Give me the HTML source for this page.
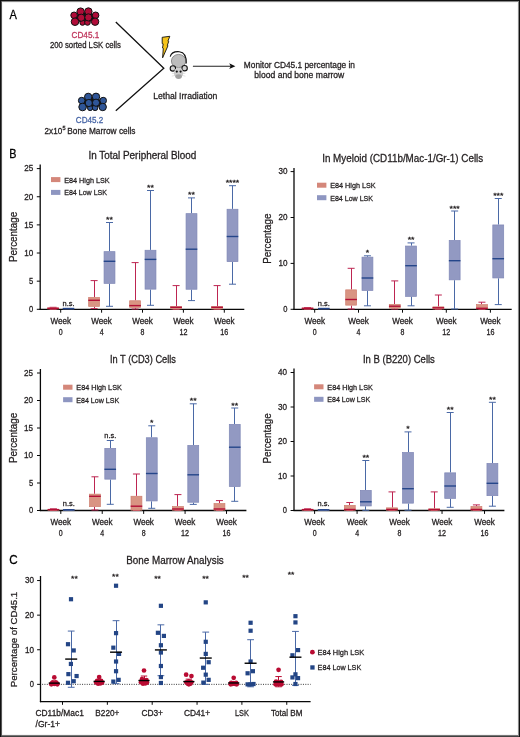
<!DOCTYPE html>
<html><head><meta charset="utf-8"><title>Figure</title>
<style>
html,body{margin:0;padding:0;background:#fff;}
body{width:520px;height:737px;overflow:hidden;position:relative;}
svg{position:absolute;left:0;top:0;font-family:"Liberation Sans", sans-serif;will-change:transform;}
</style></head>
<body>
<svg width="520" height="737" viewBox="0 0 520 737">
<text x="9.6" y="18.8" font-size="12" fill="#000" stroke="#000" stroke-width="0.28" text-anchor="start" textLength="7.4" lengthAdjust="spacingAndGlyphs" >A</text>
<ellipse cx="84.85" cy="17.50" rx="9.5" ry="5.2" fill="#111"/>
<circle cx="74.10" cy="15.30" r="3.3" fill="#b00c38" stroke="#111" stroke-width="1.0"/>
<circle cx="95.60" cy="15.30" r="3.3" fill="#b00c38" stroke="#111" stroke-width="1.0"/>
<circle cx="80.60" cy="11.60" r="3.7" fill="#b00c38" stroke="#111" stroke-width="1.0"/>
<circle cx="88.40" cy="11.50" r="3.7" fill="#b00c38" stroke="#111" stroke-width="1.0"/>
<circle cx="82.50" cy="22.70" r="2.6" fill="#b00c38" stroke="#111" stroke-width="1.0"/>
<circle cx="87.50" cy="22.50" r="2.8" fill="#b00c38" stroke="#111" stroke-width="1.0"/>
<circle cx="75.00" cy="21.70" r="3.8" fill="#b00c38" stroke="#111" stroke-width="1.0"/>
<circle cx="95.10" cy="21.70" r="3.7" fill="#b00c38" stroke="#111" stroke-width="1.0"/>
<circle cx="81.20" cy="17.70" r="3.6" fill="#b00c38" stroke="#111" stroke-width="1.0"/>
<circle cx="88.40" cy="17.40" r="3.6" fill="#b00c38" stroke="#111" stroke-width="1.0"/>
<ellipse cx="92.45" cy="102.80" rx="9.5" ry="5.2" fill="#111"/>
<circle cx="81.70" cy="100.60" r="3.3" fill="#2f5698" stroke="#111" stroke-width="1.0"/>
<circle cx="103.20" cy="100.60" r="3.3" fill="#2f5698" stroke="#111" stroke-width="1.0"/>
<circle cx="88.20" cy="96.90" r="3.7" fill="#2f5698" stroke="#111" stroke-width="1.0"/>
<circle cx="96.00" cy="96.80" r="3.7" fill="#2f5698" stroke="#111" stroke-width="1.0"/>
<circle cx="90.10" cy="108.00" r="2.6" fill="#2f5698" stroke="#111" stroke-width="1.0"/>
<circle cx="95.10" cy="107.80" r="2.8" fill="#2f5698" stroke="#111" stroke-width="1.0"/>
<circle cx="82.60" cy="107.00" r="3.8" fill="#2f5698" stroke="#111" stroke-width="1.0"/>
<circle cx="102.70" cy="107.00" r="3.7" fill="#2f5698" stroke="#111" stroke-width="1.0"/>
<circle cx="88.80" cy="103.00" r="3.6" fill="#2f5698" stroke="#111" stroke-width="1.0"/>
<circle cx="96.00" cy="102.70" r="3.6" fill="#2f5698" stroke="#111" stroke-width="1.0"/>
<text x="85.4" y="37.5" font-size="8.6" fill="#c0385e" stroke="#c0385e" stroke-width="0.28" text-anchor="middle" textLength="27.6" lengthAdjust="spacingAndGlyphs" >CD45.1</text>
<text x="85.4" y="47.9" font-size="8.6" fill="#231f20" stroke="#231f20" stroke-width="0.28" text-anchor="middle" textLength="71" lengthAdjust="spacingAndGlyphs" >200 sorted LSK cells</text>
<text x="89.5" y="123.2" font-size="8.6" fill="#4866a6" stroke="#4866a6" stroke-width="0.28" text-anchor="middle" textLength="27.4" lengthAdjust="spacingAndGlyphs" >CD45.2</text>
<text x="44.6" y="133.5" font-size="8.6" fill="#231f20" stroke="#231f20" stroke-width="0.28" textLength="17.6" lengthAdjust="spacingAndGlyphs">2x10</text>
<text x="62.6" y="130.2" font-size="5.6" fill="#231f20" stroke="#231f20" stroke-width="0.28">5</text>
<text x="67.3" y="133.5" font-size="8.6" fill="#231f20" stroke="#231f20" stroke-width="0.28" textLength="68.2" lengthAdjust="spacingAndGlyphs">Bone Marrow cells</text>
<polyline points="115.8,22 163.8,68.2 115.8,110.8" fill="none" stroke="#111" stroke-width="1.3"/>
<path d="M162.2,37.3 L169.8,36.3 L167.9,41.2 L168.7,41.5 L167.3,45.4 L168.0,45.7 L162.6,57.8 L163.3,48.3 L162.5,48.0 L163.2,43.9 L162.2,43.6 Z" fill="#f6c41a" stroke="#111" stroke-width="0.9" stroke-linejoin="miter"/>
<g>
<ellipse cx="178.6" cy="61.0" rx="7.2" ry="6.6" fill="#bdbdbd" stroke="#555" stroke-width="0.6"/>
<path d="M170.2,56.6 C171.3,52.6 175.6,51.4 179.3,51.7 C183.8,52.2 186.6,56.6 186.3,63.6" fill="none" stroke="#111" stroke-width="1.1"/>
<circle cx="172.9" cy="68.4" r="2.7" fill="#d2d2d2" stroke="#111" stroke-width="1.1"/>
<circle cx="184.6" cy="68.2" r="2.7" fill="#d2d2d2" stroke="#111" stroke-width="1.1"/>
<ellipse cx="178.6" cy="72.9" rx="4.7" ry="5.1" fill="#cdcdcd"/>
<ellipse cx="178.6" cy="76.6" rx="3.3" ry="2.3" fill="#a2a2a2"/>
<circle cx="176.8" cy="71.6" r="1.1" fill="#111"/>
<circle cx="180.6" cy="71.6" r="1.1" fill="#111"/>
<line x1="171.8" y1="73.3" x2="175.2" y2="73.5" stroke="#c4c4c4" stroke-width="0.45" />
<line x1="171.8" y1="76.2" x2="175.0" y2="75.4" stroke="#c4c4c4" stroke-width="0.45" />
<line x1="182.0" y1="73.5" x2="185.4" y2="73.3" stroke="#c4c4c4" stroke-width="0.45" />
<line x1="182.2" y1="75.4" x2="185.4" y2="76.2" stroke="#c4c4c4" stroke-width="0.45" />
</g>
<line x1="192.9" y1="66.3" x2="232" y2="66.3" stroke="#222" stroke-width="1.1" />
<path d="M235.4,66.3 L229.2,63.3 L230.7,66.3 L229.2,69.1 Z" fill="#111"/>
<text x="185.3" y="99.1" font-size="8.6" fill="#231f20" stroke="#231f20" stroke-width="0.28" text-anchor="middle" textLength="64.2" lengthAdjust="spacingAndGlyphs" >Lethal Irradiation</text>
<text x="299.4" y="68.0" font-size="8.6" fill="#231f20" stroke="#231f20" stroke-width="0.28" text-anchor="middle" textLength="111.2" lengthAdjust="spacingAndGlyphs" >Monitor CD45.1 percentage in</text>
<text x="299.3" y="78.4" font-size="8.6" fill="#231f20" stroke="#231f20" stroke-width="0.28" text-anchor="middle" textLength="90" lengthAdjust="spacingAndGlyphs" >blood and bone marrow</text>
<text x="9.2" y="158.1" font-size="12" fill="#000" stroke="#000" stroke-width="0.28" text-anchor="start" textLength="7.2" lengthAdjust="spacingAndGlyphs" >B</text>
<text x="88.4" y="158.5" font-size="10.0" fill="#231f20" stroke="#231f20" stroke-width="0.28" text-anchor="start" textLength="108" lengthAdjust="spacingAndGlyphs" >In Total Peripheral Blood</text>
<line x1="36.800000000000004" y1="309.3" x2="40.2" y2="309.3" stroke="#080808" stroke-width="1" />
<text x="33.300000000000004" y="312.1" font-size="8.2" fill="#231f20" stroke="#231f20" stroke-width="0.28" text-anchor="end" textLength="4.2" lengthAdjust="spacingAndGlyphs" >0</text>
<line x1="36.800000000000004" y1="281.16" x2="40.2" y2="281.16" stroke="#080808" stroke-width="1" />
<text x="33.300000000000004" y="283.96000000000004" font-size="8.2" fill="#231f20" stroke="#231f20" stroke-width="0.28" text-anchor="end" textLength="4.2" lengthAdjust="spacingAndGlyphs" >5</text>
<line x1="36.800000000000004" y1="253.02" x2="40.2" y2="253.02" stroke="#080808" stroke-width="1" />
<text x="33.300000000000004" y="255.82000000000002" font-size="8.2" fill="#231f20" stroke="#231f20" stroke-width="0.28" text-anchor="end" textLength="9.0" lengthAdjust="spacingAndGlyphs" >10</text>
<line x1="36.800000000000004" y1="224.88" x2="40.2" y2="224.88" stroke="#080808" stroke-width="1" />
<text x="33.300000000000004" y="227.68" font-size="8.2" fill="#231f20" stroke="#231f20" stroke-width="0.28" text-anchor="end" textLength="9.0" lengthAdjust="spacingAndGlyphs" >15</text>
<line x1="36.800000000000004" y1="196.74" x2="40.2" y2="196.74" stroke="#080808" stroke-width="1" />
<text x="33.300000000000004" y="199.54000000000002" font-size="8.2" fill="#231f20" stroke="#231f20" stroke-width="0.28" text-anchor="end" textLength="9.0" lengthAdjust="spacingAndGlyphs" >20</text>
<line x1="36.800000000000004" y1="168.60000000000002" x2="40.2" y2="168.60000000000002" stroke="#080808" stroke-width="1" />
<text x="33.300000000000004" y="171.40000000000003" font-size="8.2" fill="#231f20" stroke="#231f20" stroke-width="0.28" text-anchor="end" textLength="9.0" lengthAdjust="spacingAndGlyphs" >25</text>
<line x1="40.2" y1="164.6" x2="40.2" y2="309.90000000000003" stroke="#080808" stroke-width="1.3" />
<line x1="39.6" y1="309.3" x2="244.3" y2="309.3" stroke="#080808" stroke-width="1.3" />
<text x="0" y="0" transform="translate(16.900000000000002,237) rotate(-90)" font-size="10.3" fill="#231f20" stroke="#231f20" stroke-width="0.28" text-anchor="middle" textLength="50.2" lengthAdjust="spacingAndGlyphs">Percentage</text>
<rect x="51.0" y="177.1" width="9.4" height="5.0" fill="#d4877a"/>
<rect x="51.0" y="189.9" width="9.4" height="5.0" fill="#8e96c1"/>
<text x="64.2" y="182.5" font-size="8.1" fill="#231f20" stroke="#231f20" stroke-width="0.28" text-anchor="start" textLength="45.5" lengthAdjust="spacingAndGlyphs" >E84 High LSK</text>
<text x="64.2" y="195.3" font-size="8.1" fill="#231f20" stroke="#231f20" stroke-width="0.28" text-anchor="start" textLength="42.8" lengthAdjust="spacingAndGlyphs" >E84 Low LSK</text>
<line x1="60.7" y1="309.3" x2="60.7" y2="312.7" stroke="#080808" stroke-width="1" />
<text x="60.7" y="323.8" font-size="8.2" fill="#231f20" stroke="#231f20" stroke-width="0.28" text-anchor="middle" textLength="20.5" lengthAdjust="spacingAndGlyphs" >Week</text>
<text x="60.7" y="334.6" font-size="8.2" fill="#231f20" stroke="#231f20" stroke-width="0.28" text-anchor="middle" textLength="3.9" lengthAdjust="spacingAndGlyphs" >0</text>
<line x1="49.599999999999994" y1="307.3" x2="56.599999999999994" y2="307.3" stroke="#bd2551" stroke-width="1" />
<line x1="49.599999999999994" y1="309.3" x2="56.599999999999994" y2="309.3" stroke="#bd2551" stroke-width="1" />
<rect x="47.65" y="307.95" width="10.90" height="1.00" fill="#d99483" stroke="#cf7f6f" stroke-width="0.7"/>
<line x1="47.3" y1="308.3" x2="58.89999999999999" y2="308.3" stroke="#b30f36" stroke-width="1.4" />
<line x1="65.0" y1="308.5" x2="72.0" y2="308.5" stroke="#4a69a6" stroke-width="1" />
<line x1="65.0" y1="308.6" x2="72.0" y2="308.6" stroke="#4a69a6" stroke-width="1" />
<rect x="63.05" y="308.85" width="10.90" height="0.10" fill="#9299c2" stroke="#7f87b6" stroke-width="0.7"/>
<line x1="62.7" y1="308.5" x2="74.3" y2="308.5" stroke="#25468a" stroke-width="1.4" />
<line x1="101.6" y1="309.3" x2="101.6" y2="312.7" stroke="#080808" stroke-width="1" />
<text x="101.6" y="323.8" font-size="8.2" fill="#231f20" stroke="#231f20" stroke-width="0.28" text-anchor="middle" textLength="20.5" lengthAdjust="spacingAndGlyphs" >Week</text>
<text x="101.6" y="334.6" font-size="8.2" fill="#231f20" stroke="#231f20" stroke-width="0.28" text-anchor="middle" textLength="3.9" lengthAdjust="spacingAndGlyphs" >4</text>
<line x1="94.5" y1="280.6" x2="94.5" y2="297.1" stroke="#bd2551" stroke-width="1" />
<line x1="94.5" y1="306.7" x2="94.5" y2="308.6" stroke="#bd2551" stroke-width="1" />
<line x1="90.6" y1="280.6" x2="97.6" y2="280.6" stroke="#bd2551" stroke-width="1" />
<line x1="90.6" y1="308.6" x2="97.6" y2="308.6" stroke="#bd2551" stroke-width="1" />
<rect x="88.65" y="297.45" width="10.90" height="8.90" fill="#d99483" stroke="#cf7f6f" stroke-width="0.7"/>
<line x1="88.3" y1="300.3" x2="99.89999999999999" y2="300.3" stroke="#b30f36" stroke-width="1.4" />
<line x1="109.5" y1="222.5" x2="109.5" y2="251.3" stroke="#4a69a6" stroke-width="1" />
<line x1="109.5" y1="283.7" x2="109.5" y2="306.3" stroke="#4a69a6" stroke-width="1" />
<line x1="106.0" y1="222.5" x2="113.0" y2="222.5" stroke="#4a69a6" stroke-width="1" />
<line x1="106.0" y1="306.3" x2="113.0" y2="306.3" stroke="#4a69a6" stroke-width="1" />
<rect x="104.05" y="251.65" width="10.90" height="31.70" fill="#9299c2" stroke="#7f87b6" stroke-width="0.7"/>
<line x1="103.7" y1="261.3" x2="115.3" y2="261.3" stroke="#25468a" stroke-width="1.4" />
<line x1="142.5" y1="309.3" x2="142.5" y2="312.7" stroke="#080808" stroke-width="1" />
<text x="142.5" y="323.8" font-size="8.2" fill="#231f20" stroke="#231f20" stroke-width="0.28" text-anchor="middle" textLength="20.5" lengthAdjust="spacingAndGlyphs" >Week</text>
<text x="142.5" y="334.6" font-size="8.2" fill="#231f20" stroke="#231f20" stroke-width="0.28" text-anchor="middle" textLength="3.9" lengthAdjust="spacingAndGlyphs" >8</text>
<line x1="135.5" y1="262.6" x2="135.5" y2="300.4" stroke="#bd2551" stroke-width="1" />
<line x1="135.5" y1="307.8" x2="135.5" y2="309.0" stroke="#bd2551" stroke-width="1" />
<line x1="131.60000000000002" y1="262.6" x2="138.60000000000002" y2="262.6" stroke="#bd2551" stroke-width="1" />
<line x1="131.60000000000002" y1="309.0" x2="138.60000000000002" y2="309.0" stroke="#bd2551" stroke-width="1" />
<rect x="129.65" y="300.75" width="10.90" height="6.70" fill="#d99483" stroke="#cf7f6f" stroke-width="0.7"/>
<line x1="129.3" y1="305.6" x2="140.90000000000003" y2="305.6" stroke="#b30f36" stroke-width="1.4" />
<line x1="150.5" y1="190.5" x2="150.5" y2="249.9" stroke="#4a69a6" stroke-width="1" />
<line x1="150.5" y1="289.5" x2="150.5" y2="305.3" stroke="#4a69a6" stroke-width="1" />
<line x1="147.0" y1="190.5" x2="154.0" y2="190.5" stroke="#4a69a6" stroke-width="1" />
<line x1="147.0" y1="305.3" x2="154.0" y2="305.3" stroke="#4a69a6" stroke-width="1" />
<rect x="145.05" y="250.25" width="10.90" height="38.90" fill="#9299c2" stroke="#7f87b6" stroke-width="0.7"/>
<line x1="144.7" y1="259.4" x2="156.3" y2="259.4" stroke="#25468a" stroke-width="1.4" />
<line x1="183.4" y1="309.3" x2="183.4" y2="312.7" stroke="#080808" stroke-width="1" />
<text x="183.4" y="323.8" font-size="8.2" fill="#231f20" stroke="#231f20" stroke-width="0.28" text-anchor="middle" textLength="20.5" lengthAdjust="spacingAndGlyphs" >Week</text>
<text x="183.4" y="334.6" font-size="8.2" fill="#231f20" stroke="#231f20" stroke-width="0.28" text-anchor="middle" textLength="8.0" lengthAdjust="spacingAndGlyphs" >12</text>
<line x1="176.5" y1="285.6" x2="176.5" y2="306.3" stroke="#bd2551" stroke-width="1" />
<line x1="172.60000000000002" y1="285.6" x2="179.60000000000002" y2="285.6" stroke="#bd2551" stroke-width="1" />
<line x1="172.60000000000002" y1="309.3" x2="179.60000000000002" y2="309.3" stroke="#bd2551" stroke-width="1" />
<rect x="170.65" y="306.65" width="10.90" height="2.30" fill="#d99483" stroke="#cf7f6f" stroke-width="0.7"/>
<line x1="170.3" y1="307.3" x2="181.90000000000003" y2="307.3" stroke="#b30f36" stroke-width="1.4" />
<line x1="191.5" y1="197.9" x2="191.5" y2="213.3" stroke="#4a69a6" stroke-width="1" />
<line x1="191.5" y1="289.6" x2="191.5" y2="300.6" stroke="#4a69a6" stroke-width="1" />
<line x1="188.0" y1="197.9" x2="195.0" y2="197.9" stroke="#4a69a6" stroke-width="1" />
<line x1="188.0" y1="300.6" x2="195.0" y2="300.6" stroke="#4a69a6" stroke-width="1" />
<rect x="186.05" y="213.65" width="10.90" height="75.60" fill="#9299c2" stroke="#7f87b6" stroke-width="0.7"/>
<line x1="185.7" y1="249.2" x2="197.3" y2="249.2" stroke="#25468a" stroke-width="1.4" />
<line x1="224.3" y1="309.3" x2="224.3" y2="312.7" stroke="#080808" stroke-width="1" />
<text x="224.3" y="323.8" font-size="8.2" fill="#231f20" stroke="#231f20" stroke-width="0.28" text-anchor="middle" textLength="20.5" lengthAdjust="spacingAndGlyphs" >Week</text>
<text x="224.3" y="334.6" font-size="8.2" fill="#231f20" stroke="#231f20" stroke-width="0.28" text-anchor="middle" textLength="8.0" lengthAdjust="spacingAndGlyphs" >16</text>
<line x1="217.5" y1="285.6" x2="217.5" y2="306.3" stroke="#bd2551" stroke-width="1" />
<line x1="213.60000000000002" y1="285.6" x2="220.60000000000002" y2="285.6" stroke="#bd2551" stroke-width="1" />
<line x1="213.60000000000002" y1="309.3" x2="220.60000000000002" y2="309.3" stroke="#bd2551" stroke-width="1" />
<rect x="211.65" y="306.65" width="10.90" height="2.30" fill="#d99483" stroke="#cf7f6f" stroke-width="0.7"/>
<line x1="211.3" y1="307.3" x2="222.90000000000003" y2="307.3" stroke="#b30f36" stroke-width="1.4" />
<line x1="232.5" y1="185.7" x2="232.5" y2="208.9" stroke="#4a69a6" stroke-width="1" />
<line x1="232.5" y1="262.0" x2="232.5" y2="284.2" stroke="#4a69a6" stroke-width="1" />
<line x1="229.0" y1="185.7" x2="236.0" y2="185.7" stroke="#4a69a6" stroke-width="1" />
<line x1="229.0" y1="284.2" x2="236.0" y2="284.2" stroke="#4a69a6" stroke-width="1" />
<rect x="227.05" y="209.25" width="10.90" height="52.40" fill="#9299c2" stroke="#7f87b6" stroke-width="0.7"/>
<line x1="226.7" y1="236.5" x2="238.3" y2="236.5" stroke="#25468a" stroke-width="1.4" />
<text x="68.5" y="306.3" font-size="8.0" fill="#231f20" stroke="#231f20" stroke-width="0.28" text-anchor="middle" textLength="12.0" lengthAdjust="spacingAndGlyphs" >n.s.</text>
<text x="109.5" y="222.0" font-size="7.5" fill="#231f20" stroke="#231f20" stroke-width="0.28" text-anchor="middle" textLength="6.8" lengthAdjust="spacingAndGlyphs" letter-spacing="0">**</text>
<text x="150.5" y="190.0" font-size="7.5" fill="#231f20" stroke="#231f20" stroke-width="0.28" text-anchor="middle" textLength="6.8" lengthAdjust="spacingAndGlyphs" letter-spacing="0">**</text>
<text x="191.5" y="197.4" font-size="7.5" fill="#231f20" stroke="#231f20" stroke-width="0.28" text-anchor="middle" textLength="6.8" lengthAdjust="spacingAndGlyphs" letter-spacing="0">**</text>
<text x="232.5" y="185.2" font-size="7.5" fill="#231f20" stroke="#231f20" stroke-width="0.28" text-anchor="middle" textLength="13.6" lengthAdjust="spacingAndGlyphs" letter-spacing="0">****</text>
<text x="322.2" y="161.7" font-size="10.0" fill="#231f20" stroke="#231f20" stroke-width="0.28" text-anchor="start" textLength="161" lengthAdjust="spacingAndGlyphs" >In Myeloid (CD11b/Mac-1/Gr-1) Cells</text>
<line x1="290.6" y1="309.3" x2="294.0" y2="309.3" stroke="#080808" stroke-width="1" />
<text x="287.4" y="312.1" font-size="8.2" fill="#231f20" stroke="#231f20" stroke-width="0.28" text-anchor="end" textLength="4.2" lengthAdjust="spacingAndGlyphs" >0</text>
<line x1="290.6" y1="263.40000000000003" x2="294.0" y2="263.40000000000003" stroke="#080808" stroke-width="1" />
<text x="287.4" y="266.20000000000005" font-size="8.2" fill="#231f20" stroke="#231f20" stroke-width="0.28" text-anchor="end" textLength="9.0" lengthAdjust="spacingAndGlyphs" >10</text>
<line x1="290.6" y1="217.5" x2="294.0" y2="217.5" stroke="#080808" stroke-width="1" />
<text x="287.4" y="220.3" font-size="8.2" fill="#231f20" stroke="#231f20" stroke-width="0.28" text-anchor="end" textLength="9.0" lengthAdjust="spacingAndGlyphs" >20</text>
<line x1="290.6" y1="171.60000000000002" x2="294.0" y2="171.60000000000002" stroke="#080808" stroke-width="1" />
<text x="287.4" y="174.40000000000003" font-size="8.2" fill="#231f20" stroke="#231f20" stroke-width="0.28" text-anchor="end" textLength="9.0" lengthAdjust="spacingAndGlyphs" >30</text>
<line x1="294.0" y1="168.0" x2="294.0" y2="309.90000000000003" stroke="#080808" stroke-width="1.3" />
<line x1="293.4" y1="309.3" x2="511.7" y2="309.3" stroke="#080808" stroke-width="1.3" />
<text x="0" y="0" transform="translate(270.7,238.7) rotate(-90)" font-size="10.3" fill="#231f20" stroke="#231f20" stroke-width="0.28" text-anchor="middle" textLength="50.2" lengthAdjust="spacingAndGlyphs">Percentage</text>
<rect x="317.0" y="182.7" width="9.4" height="5.0" fill="#d4877a"/>
<rect x="317.0" y="195.2" width="9.4" height="5.0" fill="#8e96c1"/>
<text x="330.2" y="188.1" font-size="8.1" fill="#231f20" stroke="#231f20" stroke-width="0.28" text-anchor="start" textLength="45.5" lengthAdjust="spacingAndGlyphs" >E84 High LSK</text>
<text x="330.2" y="200.6" font-size="8.1" fill="#231f20" stroke="#231f20" stroke-width="0.28" text-anchor="start" textLength="42.8" lengthAdjust="spacingAndGlyphs" >E84 Low LSK</text>
<line x1="314.7" y1="309.3" x2="314.7" y2="312.7" stroke="#080808" stroke-width="1" />
<text x="314.7" y="323.8" font-size="8.2" fill="#231f20" stroke="#231f20" stroke-width="0.28" text-anchor="middle" textLength="20.5" lengthAdjust="spacingAndGlyphs" >Week</text>
<text x="314.7" y="334.6" font-size="8.2" fill="#231f20" stroke="#231f20" stroke-width="0.28" text-anchor="middle" textLength="3.9" lengthAdjust="spacingAndGlyphs" >0</text>
<line x1="304.05" y1="307.6" x2="311.05" y2="307.6" stroke="#bd2551" stroke-width="1" />
<line x1="304.05" y1="309.3" x2="311.05" y2="309.3" stroke="#bd2551" stroke-width="1" />
<rect x="302.10" y="308.15" width="10.90" height="0.80" fill="#d99483" stroke="#cf7f6f" stroke-width="0.7"/>
<line x1="301.75" y1="308.3" x2="313.35" y2="308.3" stroke="#b30f36" stroke-width="1.4" />
<line x1="320.34999999999997" y1="308.5" x2="327.34999999999997" y2="308.5" stroke="#4a69a6" stroke-width="1" />
<line x1="320.34999999999997" y1="308.6" x2="327.34999999999997" y2="308.6" stroke="#4a69a6" stroke-width="1" />
<rect x="318.40" y="308.85" width="10.90" height="0.10" fill="#9299c2" stroke="#7f87b6" stroke-width="0.7"/>
<line x1="318.04999999999995" y1="308.5" x2="329.65" y2="308.5" stroke="#25468a" stroke-width="1.4" />
<line x1="358.5" y1="309.3" x2="358.5" y2="312.7" stroke="#080808" stroke-width="1" />
<text x="358.5" y="323.8" font-size="8.2" fill="#231f20" stroke="#231f20" stroke-width="0.28" text-anchor="middle" textLength="20.5" lengthAdjust="spacingAndGlyphs" >Week</text>
<text x="358.5" y="334.6" font-size="8.2" fill="#231f20" stroke="#231f20" stroke-width="0.28" text-anchor="middle" textLength="3.9" lengthAdjust="spacingAndGlyphs" >4</text>
<line x1="351.5" y1="268.3" x2="351.5" y2="289.5" stroke="#bd2551" stroke-width="1" />
<line x1="351.5" y1="305.5" x2="351.5" y2="309.0" stroke="#bd2551" stroke-width="1" />
<line x1="347.65000000000003" y1="268.3" x2="354.65000000000003" y2="268.3" stroke="#bd2551" stroke-width="1" />
<line x1="347.65000000000003" y1="309.0" x2="354.65000000000003" y2="309.0" stroke="#bd2551" stroke-width="1" />
<rect x="345.70" y="289.85" width="10.90" height="15.30" fill="#d99483" stroke="#cf7f6f" stroke-width="0.7"/>
<line x1="345.35" y1="299.5" x2="356.95000000000005" y2="299.5" stroke="#b30f36" stroke-width="1.4" />
<line x1="367.5" y1="255.8" x2="367.5" y2="256.8" stroke="#4a69a6" stroke-width="1" />
<line x1="367.5" y1="290.8" x2="367.5" y2="305.8" stroke="#4a69a6" stroke-width="1" />
<line x1="363.95" y1="255.8" x2="370.95" y2="255.8" stroke="#4a69a6" stroke-width="1" />
<line x1="363.95" y1="305.8" x2="370.95" y2="305.8" stroke="#4a69a6" stroke-width="1" />
<rect x="362.00" y="257.15" width="10.90" height="33.30" fill="#9299c2" stroke="#7f87b6" stroke-width="0.7"/>
<line x1="361.65" y1="278.0" x2="373.25" y2="278.0" stroke="#25468a" stroke-width="1.4" />
<line x1="402.5" y1="309.3" x2="402.5" y2="312.7" stroke="#080808" stroke-width="1" />
<text x="402.5" y="323.8" font-size="8.2" fill="#231f20" stroke="#231f20" stroke-width="0.28" text-anchor="middle" textLength="20.5" lengthAdjust="spacingAndGlyphs" >Week</text>
<text x="402.5" y="334.6" font-size="8.2" fill="#231f20" stroke="#231f20" stroke-width="0.28" text-anchor="middle" textLength="3.9" lengthAdjust="spacingAndGlyphs" >8</text>
<line x1="394.5" y1="280.9" x2="394.5" y2="304.1" stroke="#bd2551" stroke-width="1" />
<line x1="394.5" y1="308.5" x2="394.5" y2="309.0" stroke="#bd2551" stroke-width="1" />
<line x1="391.25" y1="280.9" x2="398.25" y2="280.9" stroke="#bd2551" stroke-width="1" />
<line x1="391.25" y1="309.0" x2="398.25" y2="309.0" stroke="#bd2551" stroke-width="1" />
<rect x="389.30" y="304.45" width="10.90" height="3.70" fill="#d99483" stroke="#cf7f6f" stroke-width="0.7"/>
<line x1="388.95" y1="306.2" x2="400.55" y2="306.2" stroke="#b30f36" stroke-width="1.4" />
<line x1="411.5" y1="242.9" x2="411.5" y2="245.7" stroke="#4a69a6" stroke-width="1" />
<line x1="411.5" y1="296.7" x2="411.5" y2="305.8" stroke="#4a69a6" stroke-width="1" />
<line x1="407.54999999999995" y1="242.9" x2="414.54999999999995" y2="242.9" stroke="#4a69a6" stroke-width="1" />
<line x1="407.54999999999995" y1="305.8" x2="414.54999999999995" y2="305.8" stroke="#4a69a6" stroke-width="1" />
<rect x="405.60" y="246.05" width="10.90" height="50.30" fill="#9299c2" stroke="#7f87b6" stroke-width="0.7"/>
<line x1="405.24999999999994" y1="265.7" x2="416.84999999999997" y2="265.7" stroke="#25468a" stroke-width="1.4" />
<line x1="446.3" y1="309.3" x2="446.3" y2="312.7" stroke="#080808" stroke-width="1" />
<text x="446.3" y="323.8" font-size="8.2" fill="#231f20" stroke="#231f20" stroke-width="0.28" text-anchor="middle" textLength="20.5" lengthAdjust="spacingAndGlyphs" >Week</text>
<text x="446.3" y="334.6" font-size="8.2" fill="#231f20" stroke="#231f20" stroke-width="0.28" text-anchor="middle" textLength="8.0" lengthAdjust="spacingAndGlyphs" >12</text>
<line x1="438.5" y1="295.0" x2="438.5" y2="306.5" stroke="#bd2551" stroke-width="1" />
<line x1="434.85" y1="295.0" x2="441.85" y2="295.0" stroke="#bd2551" stroke-width="1" />
<line x1="434.85" y1="309.3" x2="441.85" y2="309.3" stroke="#bd2551" stroke-width="1" />
<rect x="432.90" y="306.85" width="10.90" height="2.10" fill="#d99483" stroke="#cf7f6f" stroke-width="0.7"/>
<line x1="432.55" y1="307.8" x2="444.15000000000003" y2="307.8" stroke="#b30f36" stroke-width="1.4" />
<line x1="454.5" y1="211.0" x2="454.5" y2="240.1" stroke="#4a69a6" stroke-width="1" />
<line x1="454.5" y1="280.2" x2="454.5" y2="309.0" stroke="#4a69a6" stroke-width="1" />
<line x1="451.15" y1="211.0" x2="458.15" y2="211.0" stroke="#4a69a6" stroke-width="1" />
<line x1="451.15" y1="309.0" x2="458.15" y2="309.0" stroke="#4a69a6" stroke-width="1" />
<rect x="449.20" y="240.45" width="10.90" height="39.40" fill="#9299c2" stroke="#7f87b6" stroke-width="0.7"/>
<line x1="448.84999999999997" y1="260.7" x2="460.45" y2="260.7" stroke="#25468a" stroke-width="1.4" />
<line x1="490.4" y1="309.3" x2="490.4" y2="312.7" stroke="#080808" stroke-width="1" />
<text x="490.4" y="323.8" font-size="8.2" fill="#231f20" stroke="#231f20" stroke-width="0.28" text-anchor="middle" textLength="20.5" lengthAdjust="spacingAndGlyphs" >Week</text>
<text x="490.4" y="334.6" font-size="8.2" fill="#231f20" stroke="#231f20" stroke-width="0.28" text-anchor="middle" textLength="8.0" lengthAdjust="spacingAndGlyphs" >16</text>
<line x1="481.5" y1="302.2" x2="481.5" y2="304.3" stroke="#bd2551" stroke-width="1" />
<line x1="478.45000000000005" y1="302.2" x2="485.45000000000005" y2="302.2" stroke="#bd2551" stroke-width="1" />
<line x1="478.45000000000005" y1="309.3" x2="485.45000000000005" y2="309.3" stroke="#bd2551" stroke-width="1" />
<rect x="476.50" y="304.65" width="10.90" height="4.30" fill="#d99483" stroke="#cf7f6f" stroke-width="0.7"/>
<line x1="476.15000000000003" y1="308.3" x2="487.75000000000006" y2="308.3" stroke="#b30f36" stroke-width="1.4" />
<line x1="498.5" y1="198.5" x2="498.5" y2="224.6" stroke="#4a69a6" stroke-width="1" />
<line x1="498.5" y1="278.3" x2="498.5" y2="304.6" stroke="#4a69a6" stroke-width="1" />
<line x1="494.75" y1="198.5" x2="501.75" y2="198.5" stroke="#4a69a6" stroke-width="1" />
<line x1="494.75" y1="304.6" x2="501.75" y2="304.6" stroke="#4a69a6" stroke-width="1" />
<rect x="492.80" y="224.95" width="10.90" height="53.00" fill="#9299c2" stroke="#7f87b6" stroke-width="0.7"/>
<line x1="492.45" y1="258.7" x2="504.05" y2="258.7" stroke="#25468a" stroke-width="1.4" />
<text x="323.84999999999997" y="306.0" font-size="8.0" fill="#231f20" stroke="#231f20" stroke-width="0.28" text-anchor="middle" textLength="12.0" lengthAdjust="spacingAndGlyphs" >n.s.</text>
<text x="367.45" y="255.2" font-size="7.5" fill="#231f20" stroke="#231f20" stroke-width="0.28" text-anchor="middle" textLength="3.4" lengthAdjust="spacingAndGlyphs" letter-spacing="0">*</text>
<text x="411.04999999999995" y="242.4" font-size="7.5" fill="#231f20" stroke="#231f20" stroke-width="0.28" text-anchor="middle" textLength="6.8" lengthAdjust="spacingAndGlyphs" letter-spacing="0">**</text>
<text x="454.65" y="210.5" font-size="7.5" fill="#231f20" stroke="#231f20" stroke-width="0.28" text-anchor="middle" textLength="10.2" lengthAdjust="spacingAndGlyphs" letter-spacing="0">***</text>
<text x="498.25" y="198.0" font-size="7.5" fill="#231f20" stroke="#231f20" stroke-width="0.28" text-anchor="middle" textLength="10.2" lengthAdjust="spacingAndGlyphs" letter-spacing="0">***</text>
<text x="110.0" y="362.8" font-size="10.0" fill="#231f20" stroke="#231f20" stroke-width="0.28" text-anchor="start" textLength="66" lengthAdjust="spacingAndGlyphs" >In T (CD3) Cells</text>
<line x1="37.0" y1="510.5" x2="40.4" y2="510.5" stroke="#080808" stroke-width="1" />
<text x="33.1" y="513.3" font-size="8.2" fill="#231f20" stroke="#231f20" stroke-width="0.28" text-anchor="end" textLength="4.2" lengthAdjust="spacingAndGlyphs" >0</text>
<line x1="37.0" y1="483.0" x2="40.4" y2="483.0" stroke="#080808" stroke-width="1" />
<text x="33.1" y="485.8" font-size="8.2" fill="#231f20" stroke="#231f20" stroke-width="0.28" text-anchor="end" textLength="4.2" lengthAdjust="spacingAndGlyphs" >5</text>
<line x1="37.0" y1="455.5" x2="40.4" y2="455.5" stroke="#080808" stroke-width="1" />
<text x="33.1" y="458.3" font-size="8.2" fill="#231f20" stroke="#231f20" stroke-width="0.28" text-anchor="end" textLength="9.0" lengthAdjust="spacingAndGlyphs" >10</text>
<line x1="37.0" y1="428.0" x2="40.4" y2="428.0" stroke="#080808" stroke-width="1" />
<text x="33.1" y="430.8" font-size="8.2" fill="#231f20" stroke="#231f20" stroke-width="0.28" text-anchor="end" textLength="9.0" lengthAdjust="spacingAndGlyphs" >15</text>
<line x1="37.0" y1="400.5" x2="40.4" y2="400.5" stroke="#080808" stroke-width="1" />
<text x="33.1" y="403.3" font-size="8.2" fill="#231f20" stroke="#231f20" stroke-width="0.28" text-anchor="end" textLength="9.0" lengthAdjust="spacingAndGlyphs" >20</text>
<line x1="37.0" y1="373.0" x2="40.4" y2="373.0" stroke="#080808" stroke-width="1" />
<text x="33.1" y="375.8" font-size="8.2" fill="#231f20" stroke="#231f20" stroke-width="0.28" text-anchor="end" textLength="9.0" lengthAdjust="spacingAndGlyphs" >25</text>
<line x1="40.4" y1="369.0" x2="40.4" y2="511.1" stroke="#080808" stroke-width="1.3" />
<line x1="39.8" y1="510.5" x2="246.4" y2="510.5" stroke="#080808" stroke-width="1.3" />
<text x="0" y="0" transform="translate(17.099999999999998,438) rotate(-90)" font-size="10.3" fill="#231f20" stroke="#231f20" stroke-width="0.28" text-anchor="middle" textLength="50.2" lengthAdjust="spacingAndGlyphs">Percentage</text>
<rect x="63.1" y="384.7" width="9.4" height="5.0" fill="#d4877a"/>
<rect x="63.1" y="397.2" width="9.4" height="5.0" fill="#8e96c1"/>
<text x="76.3" y="390.09999999999997" font-size="8.1" fill="#231f20" stroke="#231f20" stroke-width="0.28" text-anchor="start" textLength="45.5" lengthAdjust="spacingAndGlyphs" >E84 High LSK</text>
<text x="76.3" y="402.59999999999997" font-size="8.1" fill="#231f20" stroke="#231f20" stroke-width="0.28" text-anchor="start" textLength="42.8" lengthAdjust="spacingAndGlyphs" >E84 Low LSK</text>
<line x1="60.8" y1="510.5" x2="60.8" y2="513.9" stroke="#080808" stroke-width="1" />
<text x="60.8" y="525.0" font-size="8.2" fill="#231f20" stroke="#231f20" stroke-width="0.28" text-anchor="middle" textLength="20.5" lengthAdjust="spacingAndGlyphs" >Week</text>
<text x="60.8" y="535.8" font-size="8.2" fill="#231f20" stroke="#231f20" stroke-width="0.28" text-anchor="middle" textLength="3.9" lengthAdjust="spacingAndGlyphs" >0</text>
<line x1="49.95" y1="508.8" x2="56.95" y2="508.8" stroke="#bd2551" stroke-width="1" />
<line x1="49.95" y1="510.5" x2="56.95" y2="510.5" stroke="#bd2551" stroke-width="1" />
<rect x="48.00" y="509.35" width="10.90" height="0.80" fill="#d99483" stroke="#cf7f6f" stroke-width="0.7"/>
<line x1="47.650000000000006" y1="509.6" x2="59.25" y2="509.6" stroke="#b30f36" stroke-width="1.4" />
<line x1="65.25" y1="509.8" x2="72.25" y2="509.8" stroke="#4a69a6" stroke-width="1" />
<line x1="65.25" y1="509.9" x2="72.25" y2="509.9" stroke="#4a69a6" stroke-width="1" />
<rect x="63.30" y="510.15" width="10.90" height="0.10" fill="#9299c2" stroke="#7f87b6" stroke-width="0.7"/>
<line x1="62.95" y1="509.8" x2="74.55" y2="509.8" stroke="#25468a" stroke-width="1.4" />
<line x1="102.23" y1="510.5" x2="102.23" y2="513.9" stroke="#080808" stroke-width="1" />
<text x="102.23" y="525.0" font-size="8.2" fill="#231f20" stroke="#231f20" stroke-width="0.28" text-anchor="middle" textLength="20.5" lengthAdjust="spacingAndGlyphs" >Week</text>
<text x="102.23" y="535.8" font-size="8.2" fill="#231f20" stroke="#231f20" stroke-width="0.28" text-anchor="middle" textLength="3.9" lengthAdjust="spacingAndGlyphs" >4</text>
<line x1="94.5" y1="476.8" x2="94.5" y2="493.8" stroke="#bd2551" stroke-width="1" />
<line x1="94.5" y1="507.0" x2="94.5" y2="510.0" stroke="#bd2551" stroke-width="1" />
<line x1="91.44999999999999" y1="476.8" x2="98.44999999999999" y2="476.8" stroke="#bd2551" stroke-width="1" />
<line x1="91.44999999999999" y1="510.0" x2="98.44999999999999" y2="510.0" stroke="#bd2551" stroke-width="1" />
<rect x="89.50" y="494.15" width="10.90" height="12.50" fill="#d99483" stroke="#cf7f6f" stroke-width="0.7"/>
<line x1="89.14999999999999" y1="496.3" x2="100.74999999999999" y2="496.3" stroke="#b30f36" stroke-width="1.4" />
<line x1="110.5" y1="440.5" x2="110.5" y2="448.0" stroke="#4a69a6" stroke-width="1" />
<line x1="110.5" y1="479.5" x2="110.5" y2="504.3" stroke="#4a69a6" stroke-width="1" />
<line x1="106.75" y1="440.5" x2="113.75" y2="440.5" stroke="#4a69a6" stroke-width="1" />
<line x1="106.75" y1="504.3" x2="113.75" y2="504.3" stroke="#4a69a6" stroke-width="1" />
<rect x="104.80" y="448.35" width="10.90" height="30.80" fill="#9299c2" stroke="#7f87b6" stroke-width="0.7"/>
<line x1="104.45" y1="469.3" x2="116.05" y2="469.3" stroke="#25468a" stroke-width="1.4" />
<line x1="143.66" y1="510.5" x2="143.66" y2="513.9" stroke="#080808" stroke-width="1" />
<text x="143.66" y="525.0" font-size="8.2" fill="#231f20" stroke="#231f20" stroke-width="0.28" text-anchor="middle" textLength="20.5" lengthAdjust="spacingAndGlyphs" >Week</text>
<text x="143.66" y="535.8" font-size="8.2" fill="#231f20" stroke="#231f20" stroke-width="0.28" text-anchor="middle" textLength="3.9" lengthAdjust="spacingAndGlyphs" >8</text>
<line x1="136.5" y1="474.0" x2="136.5" y2="495.9" stroke="#bd2551" stroke-width="1" />
<line x1="132.95" y1="474.0" x2="139.95" y2="474.0" stroke="#bd2551" stroke-width="1" />
<line x1="132.95" y1="510.5" x2="139.95" y2="510.5" stroke="#bd2551" stroke-width="1" />
<rect x="131.00" y="496.25" width="10.90" height="13.90" fill="#d99483" stroke="#cf7f6f" stroke-width="0.7"/>
<line x1="130.64999999999998" y1="506.2" x2="142.25" y2="506.2" stroke="#b30f36" stroke-width="1.4" />
<line x1="151.5" y1="425.8" x2="151.5" y2="437.4" stroke="#4a69a6" stroke-width="1" />
<line x1="151.5" y1="501.3" x2="151.5" y2="508.3" stroke="#4a69a6" stroke-width="1" />
<line x1="148.25" y1="425.8" x2="155.25" y2="425.8" stroke="#4a69a6" stroke-width="1" />
<line x1="148.25" y1="508.3" x2="155.25" y2="508.3" stroke="#4a69a6" stroke-width="1" />
<rect x="146.30" y="437.75" width="10.90" height="63.20" fill="#9299c2" stroke="#7f87b6" stroke-width="0.7"/>
<line x1="145.95" y1="473.5" x2="157.55" y2="473.5" stroke="#25468a" stroke-width="1.4" />
<line x1="185.09" y1="510.5" x2="185.09" y2="513.9" stroke="#080808" stroke-width="1" />
<text x="185.09" y="525.0" font-size="8.2" fill="#231f20" stroke="#231f20" stroke-width="0.28" text-anchor="middle" textLength="20.5" lengthAdjust="spacingAndGlyphs" >Week</text>
<text x="185.09" y="535.8" font-size="8.2" fill="#231f20" stroke="#231f20" stroke-width="0.28" text-anchor="middle" textLength="8.0" lengthAdjust="spacingAndGlyphs" >12</text>
<line x1="177.5" y1="494.6" x2="177.5" y2="506.2" stroke="#bd2551" stroke-width="1" />
<line x1="174.45" y1="494.6" x2="181.45" y2="494.6" stroke="#bd2551" stroke-width="1" />
<line x1="174.45" y1="510.5" x2="181.45" y2="510.5" stroke="#bd2551" stroke-width="1" />
<rect x="172.50" y="506.55" width="10.90" height="3.60" fill="#d99483" stroke="#cf7f6f" stroke-width="0.7"/>
<line x1="172.14999999999998" y1="509.0" x2="183.75" y2="509.0" stroke="#b30f36" stroke-width="1.4" />
<line x1="193.5" y1="403.8" x2="193.5" y2="445.1" stroke="#4a69a6" stroke-width="1" />
<line x1="193.5" y1="502.6" x2="193.5" y2="504.4" stroke="#4a69a6" stroke-width="1" />
<line x1="189.75" y1="403.8" x2="196.75" y2="403.8" stroke="#4a69a6" stroke-width="1" />
<line x1="189.75" y1="504.4" x2="196.75" y2="504.4" stroke="#4a69a6" stroke-width="1" />
<rect x="187.80" y="445.45" width="10.90" height="56.80" fill="#9299c2" stroke="#7f87b6" stroke-width="0.7"/>
<line x1="187.45" y1="474.8" x2="199.05" y2="474.8" stroke="#25468a" stroke-width="1.4" />
<line x1="226.52" y1="510.5" x2="226.52" y2="513.9" stroke="#080808" stroke-width="1" />
<text x="226.52" y="525.0" font-size="8.2" fill="#231f20" stroke="#231f20" stroke-width="0.28" text-anchor="middle" textLength="20.5" lengthAdjust="spacingAndGlyphs" >Week</text>
<text x="226.52" y="535.8" font-size="8.2" fill="#231f20" stroke="#231f20" stroke-width="0.28" text-anchor="middle" textLength="8.0" lengthAdjust="spacingAndGlyphs" >16</text>
<line x1="219.5" y1="500.6" x2="219.5" y2="503.2" stroke="#bd2551" stroke-width="1" />
<line x1="215.95" y1="500.6" x2="222.95" y2="500.6" stroke="#bd2551" stroke-width="1" />
<line x1="215.95" y1="510.5" x2="222.95" y2="510.5" stroke="#bd2551" stroke-width="1" />
<rect x="214.00" y="503.55" width="10.90" height="6.60" fill="#d99483" stroke="#cf7f6f" stroke-width="0.7"/>
<line x1="213.64999999999998" y1="509.0" x2="225.25" y2="509.0" stroke="#b30f36" stroke-width="1.4" />
<line x1="234.5" y1="408.0" x2="234.5" y2="424.0" stroke="#4a69a6" stroke-width="1" />
<line x1="234.5" y1="486.9" x2="234.5" y2="501.3" stroke="#4a69a6" stroke-width="1" />
<line x1="231.25" y1="408.0" x2="238.25" y2="408.0" stroke="#4a69a6" stroke-width="1" />
<line x1="231.25" y1="501.3" x2="238.25" y2="501.3" stroke="#4a69a6" stroke-width="1" />
<rect x="229.30" y="424.35" width="10.90" height="62.20" fill="#9299c2" stroke="#7f87b6" stroke-width="0.7"/>
<line x1="228.95" y1="447.2" x2="240.55" y2="447.2" stroke="#25468a" stroke-width="1.4" />
<text x="68.75" y="506.4" font-size="8.0" fill="#231f20" stroke="#231f20" stroke-width="0.28" text-anchor="middle" textLength="12.0" lengthAdjust="spacingAndGlyphs" >n.s.</text>
<text x="110.25" y="437.6" font-size="8.0" fill="#231f20" stroke="#231f20" stroke-width="0.28" text-anchor="middle" textLength="12.0" lengthAdjust="spacingAndGlyphs" >n.s.</text>
<text x="151.75" y="425.3" font-size="7.5" fill="#231f20" stroke="#231f20" stroke-width="0.28" text-anchor="middle" textLength="3.4" lengthAdjust="spacingAndGlyphs" letter-spacing="0">*</text>
<text x="193.25" y="403.3" font-size="7.5" fill="#231f20" stroke="#231f20" stroke-width="0.28" text-anchor="middle" textLength="6.8" lengthAdjust="spacingAndGlyphs" letter-spacing="0">**</text>
<text x="234.75" y="407.5" font-size="7.5" fill="#231f20" stroke="#231f20" stroke-width="0.28" text-anchor="middle" textLength="6.8" lengthAdjust="spacingAndGlyphs" letter-spacing="0">**</text>
<text x="362.9" y="362.8" font-size="10.0" fill="#231f20" stroke="#231f20" stroke-width="0.28" text-anchor="start" textLength="72" lengthAdjust="spacingAndGlyphs" >In B (B220) Cells</text>
<line x1="290.6" y1="510.5" x2="294.0" y2="510.5" stroke="#080808" stroke-width="1" />
<text x="287.0" y="513.3" font-size="8.2" fill="#231f20" stroke="#231f20" stroke-width="0.28" text-anchor="end" textLength="4.2" lengthAdjust="spacingAndGlyphs" >0</text>
<line x1="290.6" y1="476.0" x2="294.0" y2="476.0" stroke="#080808" stroke-width="1" />
<text x="287.0" y="478.8" font-size="8.2" fill="#231f20" stroke="#231f20" stroke-width="0.28" text-anchor="end" textLength="9.0" lengthAdjust="spacingAndGlyphs" >10</text>
<line x1="290.6" y1="441.5" x2="294.0" y2="441.5" stroke="#080808" stroke-width="1" />
<text x="287.0" y="444.3" font-size="8.2" fill="#231f20" stroke="#231f20" stroke-width="0.28" text-anchor="end" textLength="9.0" lengthAdjust="spacingAndGlyphs" >20</text>
<line x1="290.6" y1="407.0" x2="294.0" y2="407.0" stroke="#080808" stroke-width="1" />
<text x="287.0" y="409.8" font-size="8.2" fill="#231f20" stroke="#231f20" stroke-width="0.28" text-anchor="end" textLength="9.0" lengthAdjust="spacingAndGlyphs" >30</text>
<line x1="290.6" y1="372.5" x2="294.0" y2="372.5" stroke="#080808" stroke-width="1" />
<text x="287.0" y="375.3" font-size="8.2" fill="#231f20" stroke="#231f20" stroke-width="0.28" text-anchor="end" textLength="9.0" lengthAdjust="spacingAndGlyphs" >40</text>
<line x1="294.0" y1="368.5" x2="294.0" y2="511.1" stroke="#080808" stroke-width="1.3" />
<line x1="293.4" y1="510.5" x2="504.4" y2="510.5" stroke="#080808" stroke-width="1.3" />
<text x="0" y="0" transform="translate(270.7,438.5) rotate(-90)" font-size="10.3" fill="#231f20" stroke="#231f20" stroke-width="0.28" text-anchor="middle" textLength="50.2" lengthAdjust="spacingAndGlyphs">Percentage</text>
<rect x="314.1" y="384.3" width="9.4" height="5.0" fill="#d4877a"/>
<rect x="314.1" y="396.8" width="9.4" height="5.0" fill="#8e96c1"/>
<text x="327.3" y="389.7" font-size="8.1" fill="#231f20" stroke="#231f20" stroke-width="0.28" text-anchor="start" textLength="45.5" lengthAdjust="spacingAndGlyphs" >E84 High LSK</text>
<text x="327.3" y="402.2" font-size="8.1" fill="#231f20" stroke="#231f20" stroke-width="0.28" text-anchor="start" textLength="42.8" lengthAdjust="spacingAndGlyphs" >E84 Low LSK</text>
<line x1="314.6" y1="510.5" x2="314.6" y2="513.9" stroke="#080808" stroke-width="1" />
<text x="314.6" y="525.0" font-size="8.2" fill="#231f20" stroke="#231f20" stroke-width="0.28" text-anchor="middle" textLength="20.5" lengthAdjust="spacingAndGlyphs" >Week</text>
<text x="314.6" y="535.8" font-size="8.2" fill="#231f20" stroke="#231f20" stroke-width="0.28" text-anchor="middle" textLength="3.9" lengthAdjust="spacingAndGlyphs" >0</text>
<line x1="304.1" y1="508.8" x2="311.1" y2="508.8" stroke="#bd2551" stroke-width="1" />
<line x1="304.1" y1="510.5" x2="311.1" y2="510.5" stroke="#bd2551" stroke-width="1" />
<rect x="302.15" y="509.35" width="10.90" height="0.80" fill="#d99483" stroke="#cf7f6f" stroke-width="0.7"/>
<line x1="301.8" y1="509.6" x2="313.40000000000003" y2="509.6" stroke="#b30f36" stroke-width="1.4" />
<line x1="320.1" y1="509.8" x2="327.1" y2="509.8" stroke="#4a69a6" stroke-width="1" />
<line x1="320.1" y1="509.9" x2="327.1" y2="509.9" stroke="#4a69a6" stroke-width="1" />
<rect x="318.15" y="510.15" width="10.90" height="0.10" fill="#9299c2" stroke="#7f87b6" stroke-width="0.7"/>
<line x1="317.8" y1="509.8" x2="329.40000000000003" y2="509.8" stroke="#25468a" stroke-width="1.4" />
<line x1="357.08" y1="510.5" x2="357.08" y2="513.9" stroke="#080808" stroke-width="1" />
<text x="357.08" y="525.0" font-size="8.2" fill="#231f20" stroke="#231f20" stroke-width="0.28" text-anchor="middle" textLength="20.5" lengthAdjust="spacingAndGlyphs" >Week</text>
<text x="357.08" y="535.8" font-size="8.2" fill="#231f20" stroke="#231f20" stroke-width="0.28" text-anchor="middle" textLength="3.9" lengthAdjust="spacingAndGlyphs" >4</text>
<line x1="349.5" y1="502.5" x2="349.5" y2="505.0" stroke="#bd2551" stroke-width="1" />
<line x1="346.3" y1="502.5" x2="353.3" y2="502.5" stroke="#bd2551" stroke-width="1" />
<line x1="346.3" y1="510.5" x2="353.3" y2="510.5" stroke="#bd2551" stroke-width="1" />
<rect x="344.35" y="505.35" width="10.90" height="4.80" fill="#d99483" stroke="#cf7f6f" stroke-width="0.7"/>
<line x1="344.0" y1="509.5" x2="355.6" y2="509.5" stroke="#b30f36" stroke-width="1.4" />
<line x1="365.5" y1="460.5" x2="365.5" y2="490.0" stroke="#4a69a6" stroke-width="1" />
<line x1="365.5" y1="506.3" x2="365.5" y2="510.3" stroke="#4a69a6" stroke-width="1" />
<line x1="362.3" y1="460.5" x2="369.3" y2="460.5" stroke="#4a69a6" stroke-width="1" />
<line x1="362.3" y1="510.3" x2="369.3" y2="510.3" stroke="#4a69a6" stroke-width="1" />
<rect x="360.35" y="490.35" width="10.90" height="15.60" fill="#9299c2" stroke="#7f87b6" stroke-width="0.7"/>
<line x1="360.0" y1="501.8" x2="371.6" y2="501.8" stroke="#25468a" stroke-width="1.4" />
<line x1="399.56" y1="510.5" x2="399.56" y2="513.9" stroke="#080808" stroke-width="1" />
<text x="399.56" y="525.0" font-size="8.2" fill="#231f20" stroke="#231f20" stroke-width="0.28" text-anchor="middle" textLength="20.5" lengthAdjust="spacingAndGlyphs" >Week</text>
<text x="399.56" y="535.8" font-size="8.2" fill="#231f20" stroke="#231f20" stroke-width="0.28" text-anchor="middle" textLength="3.9" lengthAdjust="spacingAndGlyphs" >8</text>
<line x1="392.5" y1="491.9" x2="392.5" y2="507.5" stroke="#bd2551" stroke-width="1" />
<line x1="388.5" y1="491.9" x2="395.5" y2="491.9" stroke="#bd2551" stroke-width="1" />
<line x1="388.5" y1="510.5" x2="395.5" y2="510.5" stroke="#bd2551" stroke-width="1" />
<rect x="386.55" y="507.85" width="10.90" height="2.30" fill="#d99483" stroke="#cf7f6f" stroke-width="0.7"/>
<line x1="386.2" y1="509.5" x2="397.8" y2="509.5" stroke="#b30f36" stroke-width="1.4" />
<line x1="408.5" y1="431.9" x2="408.5" y2="452.1" stroke="#4a69a6" stroke-width="1" />
<line x1="408.5" y1="503.5" x2="408.5" y2="510.2" stroke="#4a69a6" stroke-width="1" />
<line x1="404.5" y1="431.9" x2="411.5" y2="431.9" stroke="#4a69a6" stroke-width="1" />
<line x1="404.5" y1="510.2" x2="411.5" y2="510.2" stroke="#4a69a6" stroke-width="1" />
<rect x="402.55" y="452.45" width="10.90" height="50.70" fill="#9299c2" stroke="#7f87b6" stroke-width="0.7"/>
<line x1="402.2" y1="488.7" x2="413.8" y2="488.7" stroke="#25468a" stroke-width="1.4" />
<line x1="442.04" y1="510.5" x2="442.04" y2="513.9" stroke="#080808" stroke-width="1" />
<text x="442.04" y="525.0" font-size="8.2" fill="#231f20" stroke="#231f20" stroke-width="0.28" text-anchor="middle" textLength="20.5" lengthAdjust="spacingAndGlyphs" >Week</text>
<text x="442.04" y="535.8" font-size="8.2" fill="#231f20" stroke="#231f20" stroke-width="0.28" text-anchor="middle" textLength="8.0" lengthAdjust="spacingAndGlyphs" >12</text>
<line x1="434.5" y1="491.9" x2="434.5" y2="508.5" stroke="#bd2551" stroke-width="1" />
<line x1="430.7" y1="491.9" x2="437.7" y2="491.9" stroke="#bd2551" stroke-width="1" />
<line x1="430.7" y1="510.5" x2="437.7" y2="510.5" stroke="#bd2551" stroke-width="1" />
<rect x="428.75" y="508.85" width="10.90" height="1.30" fill="#d99483" stroke="#cf7f6f" stroke-width="0.7"/>
<line x1="428.4" y1="509.5" x2="440.0" y2="509.5" stroke="#b30f36" stroke-width="1.4" />
<line x1="450.5" y1="412.5" x2="450.5" y2="472.5" stroke="#4a69a6" stroke-width="1" />
<line x1="450.5" y1="498.7" x2="450.5" y2="507.3" stroke="#4a69a6" stroke-width="1" />
<line x1="446.7" y1="412.5" x2="453.7" y2="412.5" stroke="#4a69a6" stroke-width="1" />
<line x1="446.7" y1="507.3" x2="453.7" y2="507.3" stroke="#4a69a6" stroke-width="1" />
<rect x="444.75" y="472.85" width="10.90" height="25.50" fill="#9299c2" stroke="#7f87b6" stroke-width="0.7"/>
<line x1="444.4" y1="486.0" x2="456.0" y2="486.0" stroke="#25468a" stroke-width="1.4" />
<line x1="484.52" y1="510.5" x2="484.52" y2="513.9" stroke="#080808" stroke-width="1" />
<text x="484.52" y="525.0" font-size="8.2" fill="#231f20" stroke="#231f20" stroke-width="0.28" text-anchor="middle" textLength="20.5" lengthAdjust="spacingAndGlyphs" >Week</text>
<text x="484.52" y="535.8" font-size="8.2" fill="#231f20" stroke="#231f20" stroke-width="0.28" text-anchor="middle" textLength="8.0" lengthAdjust="spacingAndGlyphs" >16</text>
<line x1="476.5" y1="504.9" x2="476.5" y2="506.2" stroke="#bd2551" stroke-width="1" />
<line x1="472.9" y1="504.9" x2="479.9" y2="504.9" stroke="#bd2551" stroke-width="1" />
<line x1="472.9" y1="510.5" x2="479.9" y2="510.5" stroke="#bd2551" stroke-width="1" />
<rect x="470.95" y="506.55" width="10.90" height="3.60" fill="#d99483" stroke="#cf7f6f" stroke-width="0.7"/>
<line x1="470.59999999999997" y1="509.5" x2="482.2" y2="509.5" stroke="#b30f36" stroke-width="1.4" />
<line x1="492.5" y1="402.3" x2="492.5" y2="463.1" stroke="#4a69a6" stroke-width="1" />
<line x1="492.5" y1="496.0" x2="492.5" y2="506.2" stroke="#4a69a6" stroke-width="1" />
<line x1="488.9" y1="402.3" x2="495.9" y2="402.3" stroke="#4a69a6" stroke-width="1" />
<line x1="488.9" y1="506.2" x2="495.9" y2="506.2" stroke="#4a69a6" stroke-width="1" />
<rect x="486.95" y="463.45" width="10.90" height="32.20" fill="#9299c2" stroke="#7f87b6" stroke-width="0.7"/>
<line x1="486.59999999999997" y1="483.3" x2="498.2" y2="483.3" stroke="#25468a" stroke-width="1.4" />
<text x="323.6" y="506.3" font-size="8.0" fill="#231f20" stroke="#231f20" stroke-width="0.28" text-anchor="middle" textLength="12.0" lengthAdjust="spacingAndGlyphs" >n.s.</text>
<text x="365.8" y="460.0" font-size="7.5" fill="#231f20" stroke="#231f20" stroke-width="0.28" text-anchor="middle" textLength="6.8" lengthAdjust="spacingAndGlyphs" letter-spacing="0">**</text>
<text x="408.0" y="431.4" font-size="7.5" fill="#231f20" stroke="#231f20" stroke-width="0.28" text-anchor="middle" textLength="3.4" lengthAdjust="spacingAndGlyphs" letter-spacing="0">*</text>
<text x="450.2" y="412.0" font-size="7.5" fill="#231f20" stroke="#231f20" stroke-width="0.28" text-anchor="middle" textLength="6.8" lengthAdjust="spacingAndGlyphs" letter-spacing="0">**</text>
<text x="492.4" y="401.8" font-size="7.5" fill="#231f20" stroke="#231f20" stroke-width="0.28" text-anchor="middle" textLength="6.8" lengthAdjust="spacingAndGlyphs" letter-spacing="0">**</text>
<text x="9.2" y="563.8" font-size="12" fill="#000" stroke="#000" stroke-width="0.28" text-anchor="start" textLength="8.4" lengthAdjust="spacingAndGlyphs" >C</text>
<text x="175.0" y="564.3" font-size="10.0" fill="#231f20" stroke="#231f20" stroke-width="0.28" text-anchor="middle" textLength="97.5" lengthAdjust="spacingAndGlyphs" >Bone Marrow Analysis</text>
<line x1="40.5" y1="576.0" x2="40.5" y2="702.2" stroke="#080808" stroke-width="1.3" />
<line x1="39.9" y1="701.6" x2="310.6" y2="701.6" stroke="#080808" stroke-width="1.3" />
<line x1="37.1" y1="684.35" x2="40.5" y2="684.35" stroke="#080808" stroke-width="1" />
<text x="33.9" y="687.15" font-size="8.2" fill="#231f20" stroke="#231f20" stroke-width="0.28" text-anchor="end" textLength="4.2" lengthAdjust="spacingAndGlyphs" >0</text>
<line x1="37.1" y1="649.75" x2="40.5" y2="649.75" stroke="#080808" stroke-width="1" />
<text x="33.9" y="652.55" font-size="8.2" fill="#231f20" stroke="#231f20" stroke-width="0.28" text-anchor="end" textLength="9.0" lengthAdjust="spacingAndGlyphs" >10</text>
<line x1="37.1" y1="615.15" x2="40.5" y2="615.15" stroke="#080808" stroke-width="1" />
<text x="33.9" y="617.9499999999999" font-size="8.2" fill="#231f20" stroke="#231f20" stroke-width="0.28" text-anchor="end" textLength="9.0" lengthAdjust="spacingAndGlyphs" >20</text>
<line x1="37.1" y1="580.5500000000001" x2="40.5" y2="580.5500000000001" stroke="#080808" stroke-width="1" />
<text x="33.9" y="583.35" font-size="8.2" fill="#231f20" stroke="#231f20" stroke-width="0.28" text-anchor="end" textLength="9.0" lengthAdjust="spacingAndGlyphs" >30</text>
<line x1="42.1" y1="684.35" x2="310.6" y2="684.35" stroke="#222" stroke-width="0.9" stroke-dasharray="1 1.35"/>
<text x="0" y="0" transform="translate(17.2,639.5) rotate(-90)" font-size="9.8" fill="#231f20" stroke="#231f20" stroke-width="0.28" text-anchor="middle" textLength="95.4" lengthAdjust="spacingAndGlyphs">Percentage of CD45.1</text>
<line x1="62.5" y1="701.6" x2="62.5" y2="704.8000000000001" stroke="#080808" stroke-width="1" />
<text x="35.5" y="716.3" font-size="8.6" fill="#231f20" stroke="#231f20" stroke-width="0.28" text-anchor="start" textLength="48.3" lengthAdjust="spacingAndGlyphs" >CD11b/Mac1</text>
<text x="35.5" y="726.8" font-size="8.6" fill="#231f20" stroke="#231f20" stroke-width="0.28" text-anchor="start" textLength="24.5" lengthAdjust="spacingAndGlyphs" >/Gr-1+</text>
<line x1="107.35" y1="701.6" x2="107.35" y2="704.8000000000001" stroke="#080808" stroke-width="1" />
<text x="107.35" y="716.3" font-size="8.6" fill="#231f20" stroke="#231f20" stroke-width="0.28" text-anchor="middle" textLength="24" lengthAdjust="spacingAndGlyphs" >B220+</text>
<line x1="152.2" y1="701.6" x2="152.2" y2="704.8000000000001" stroke="#080808" stroke-width="1" />
<text x="152.2" y="716.3" font-size="8.6" fill="#231f20" stroke="#231f20" stroke-width="0.28" text-anchor="middle" textLength="21.6" lengthAdjust="spacingAndGlyphs" >CD3+</text>
<line x1="197.05" y1="701.6" x2="197.05" y2="704.8000000000001" stroke="#080808" stroke-width="1" />
<text x="197.05" y="716.3" font-size="8.6" fill="#231f20" stroke="#231f20" stroke-width="0.28" text-anchor="middle" textLength="26.2" lengthAdjust="spacingAndGlyphs" >CD41+</text>
<line x1="241.9" y1="701.6" x2="241.9" y2="704.8000000000001" stroke="#080808" stroke-width="1" />
<text x="241.9" y="716.3" font-size="8.6" fill="#231f20" stroke="#231f20" stroke-width="0.28" text-anchor="middle" textLength="13.9" lengthAdjust="spacingAndGlyphs" >LSK</text>
<line x1="286.75" y1="701.6" x2="286.75" y2="704.8000000000001" stroke="#080808" stroke-width="1" />
<text x="286.75" y="716.3" font-size="8.6" fill="#231f20" stroke="#231f20" stroke-width="0.28" text-anchor="middle" textLength="31.4" lengthAdjust="spacingAndGlyphs" >Total BM</text>
<line x1="54.5" y1="682.274" x2="54.5" y2="684.35" stroke="#b90b32" stroke-width="1" />
<line x1="51.099999999999994" y1="682.274" x2="57.5" y2="682.274" stroke="#b90b32" stroke-width="1" />
<line x1="51.099999999999994" y1="684.35" x2="57.5" y2="684.35" stroke="#b90b32" stroke-width="1" />
<circle cx="54.30" cy="677.43" r="2.35" fill="#b90b32"/>
<circle cx="51.80" cy="683.31" r="2.35" fill="#b90b32"/>
<circle cx="56.80" cy="683.31" r="2.35" fill="#b90b32"/>
<circle cx="54.30" cy="684.00" r="2.35" fill="#b90b32"/>
<circle cx="52.80" cy="682.27" r="2.35" fill="#b90b32"/>
<circle cx="55.80" cy="682.27" r="2.35" fill="#b90b32"/>
<circle cx="51.30" cy="684.35" r="2.35" fill="#b90b32"/>
<circle cx="57.30" cy="684.35" r="2.35" fill="#b90b32"/>
<line x1="48.699999999999996" y1="683.139" x2="59.9" y2="683.139" stroke="#000" stroke-width="1.4" />
<line x1="71.5" y1="631.066" x2="71.5" y2="687.291" stroke="#4a69a6" stroke-width="1" />
<line x1="67.8" y1="631.066" x2="74.60000000000001" y2="631.066" stroke="#4a69a6" stroke-width="1" />
<line x1="67.8" y1="687.291" x2="74.60000000000001" y2="687.291" stroke="#4a69a6" stroke-width="1" />
<rect x="68.90" y="597.13" width="4.2" height="4.2" fill="#234585"/>
<rect x="65.90" y="642.11" width="4.2" height="4.2" fill="#234585"/>
<rect x="71.60" y="648.34" width="4.2" height="4.2" fill="#234585"/>
<rect x="68.80" y="661.84" width="4.2" height="4.2" fill="#234585"/>
<rect x="66.30" y="672.04" width="4.2" height="4.2" fill="#234585"/>
<rect x="74.50" y="673.95" width="4.2" height="4.2" fill="#234585"/>
<rect x="71.60" y="679.14" width="4.2" height="4.2" fill="#234585"/>
<rect x="65.90" y="680.69" width="4.2" height="4.2" fill="#234585"/>
<line x1="65.2" y1="659.092" x2="77.2" y2="659.092" stroke="#000" stroke-width="1.4" />
<text x="74.4" y="580.6999999999999" font-size="7.5" fill="#231f20" stroke="#231f20" stroke-width="0.28" text-anchor="middle" textLength="6.6" lengthAdjust="spacingAndGlyphs" >**</text>
<line x1="99.5" y1="679.852" x2="99.5" y2="683.312" stroke="#b90b32" stroke-width="1" />
<line x1="95.94999999999999" y1="679.852" x2="102.35" y2="679.852" stroke="#b90b32" stroke-width="1" />
<line x1="95.94999999999999" y1="683.312" x2="102.35" y2="683.312" stroke="#b90b32" stroke-width="1" />
<circle cx="99.15" cy="677.08" r="2.35" fill="#b90b32"/>
<circle cx="97.15" cy="680.89" r="2.35" fill="#b90b32"/>
<circle cx="101.15" cy="680.89" r="2.35" fill="#b90b32"/>
<circle cx="99.15" cy="682.27" r="2.35" fill="#b90b32"/>
<circle cx="96.15" cy="682.62" r="2.35" fill="#b90b32"/>
<circle cx="102.15" cy="682.62" r="2.35" fill="#b90b32"/>
<circle cx="98.15" cy="683.66" r="2.35" fill="#b90b32"/>
<circle cx="100.65" cy="683.31" r="2.35" fill="#b90b32"/>
<line x1="93.55" y1="681.409" x2="104.74999999999999" y2="681.409" stroke="#000" stroke-width="1.4" />
<line x1="116.5" y1="620.686" x2="116.5" y2="683.658" stroke="#4a69a6" stroke-width="1" />
<line x1="112.64999999999999" y1="620.686" x2="119.45" y2="620.686" stroke="#4a69a6" stroke-width="1" />
<line x1="112.64999999999999" y1="683.658" x2="119.45" y2="683.658" stroke="#4a69a6" stroke-width="1" />
<rect x="113.95" y="583.64" width="4.2" height="4.2" fill="#234585"/>
<rect x="113.95" y="631.04" width="4.2" height="4.2" fill="#234585"/>
<rect x="111.25" y="645.57" width="4.2" height="4.2" fill="#234585"/>
<rect x="116.95" y="651.80" width="4.2" height="4.2" fill="#234585"/>
<rect x="113.95" y="659.41" width="4.2" height="4.2" fill="#234585"/>
<rect x="113.95" y="669.10" width="4.2" height="4.2" fill="#234585"/>
<rect x="116.55" y="677.75" width="4.2" height="4.2" fill="#234585"/>
<rect x="111.25" y="679.48" width="4.2" height="4.2" fill="#234585"/>
<line x1="110.05" y1="652.172" x2="122.05" y2="652.172" stroke="#000" stroke-width="1.4" />
<text x="115.4" y="579.0999999999999" font-size="7.5" fill="#231f20" stroke="#231f20" stroke-width="0.28" text-anchor="middle" textLength="6.6" lengthAdjust="spacingAndGlyphs" >**</text>
<line x1="144.5" y1="676.046" x2="144.5" y2="683.312" stroke="#b90b32" stroke-width="1" />
<line x1="140.8" y1="676.046" x2="147.2" y2="676.046" stroke="#b90b32" stroke-width="1" />
<line x1="140.8" y1="683.312" x2="147.2" y2="683.312" stroke="#b90b32" stroke-width="1" />
<circle cx="144.00" cy="670.51" r="2.35" fill="#b90b32"/>
<circle cx="142.00" cy="679.16" r="2.35" fill="#b90b32"/>
<circle cx="146.50" cy="680.20" r="2.35" fill="#b90b32"/>
<circle cx="144.00" cy="681.58" r="2.35" fill="#b90b32"/>
<circle cx="141.00" cy="682.27" r="2.35" fill="#b90b32"/>
<circle cx="147.00" cy="682.62" r="2.35" fill="#b90b32"/>
<circle cx="143.00" cy="683.66" r="2.35" fill="#b90b32"/>
<circle cx="145.50" cy="683.31" r="2.35" fill="#b90b32"/>
<line x1="138.4" y1="680.544" x2="149.6" y2="680.544" stroke="#000" stroke-width="1.4" />
<line x1="160.5" y1="624.838" x2="160.5" y2="675.7" stroke="#4a69a6" stroke-width="1" />
<line x1="157.49999999999997" y1="624.838" x2="164.29999999999998" y2="624.838" stroke="#4a69a6" stroke-width="1" />
<line x1="157.49999999999997" y1="675.7" x2="164.29999999999998" y2="675.7" stroke="#4a69a6" stroke-width="1" />
<rect x="158.80" y="603.71" width="4.2" height="4.2" fill="#234585"/>
<rect x="155.80" y="630.70" width="4.2" height="4.2" fill="#234585"/>
<rect x="161.80" y="633.81" width="4.2" height="4.2" fill="#234585"/>
<rect x="158.80" y="643.15" width="4.2" height="4.2" fill="#234585"/>
<rect x="158.80" y="650.42" width="4.2" height="4.2" fill="#234585"/>
<rect x="158.80" y="663.91" width="4.2" height="4.2" fill="#234585"/>
<rect x="158.80" y="674.98" width="4.2" height="4.2" fill="#234585"/>
<rect x="158.80" y="680.87" width="4.2" height="4.2" fill="#234585"/>
<line x1="154.89999999999998" y1="649.923" x2="166.89999999999998" y2="649.923" stroke="#000" stroke-width="1.4" />
<text x="157.5" y="580.6999999999999" font-size="7.5" fill="#231f20" stroke="#231f20" stroke-width="0.28" text-anchor="middle" textLength="6.6" lengthAdjust="spacingAndGlyphs" >**</text>
<line x1="188.5" y1="679.16" x2="188.5" y2="684.004" stroke="#b90b32" stroke-width="1" />
<line x1="185.65000000000003" y1="679.16" x2="192.05" y2="679.16" stroke="#b90b32" stroke-width="1" />
<line x1="185.65000000000003" y1="684.004" x2="192.05" y2="684.004" stroke="#b90b32" stroke-width="1" />
<circle cx="186.15" cy="674.66" r="2.35" fill="#b90b32"/>
<circle cx="191.45" cy="676.05" r="2.35" fill="#b90b32"/>
<circle cx="188.85" cy="681.24" r="2.35" fill="#b90b32"/>
<circle cx="186.35" cy="682.27" r="2.35" fill="#b90b32"/>
<circle cx="191.35" cy="682.27" r="2.35" fill="#b90b32"/>
<circle cx="187.85" cy="683.66" r="2.35" fill="#b90b32"/>
<circle cx="190.35" cy="683.66" r="2.35" fill="#b90b32"/>
<circle cx="188.85" cy="684.35" r="2.35" fill="#b90b32"/>
<line x1="183.25000000000003" y1="681.582" x2="194.45000000000002" y2="681.582" stroke="#000" stroke-width="1.4" />
<line x1="205.5" y1="632.104" x2="205.5" y2="684.35" stroke="#4a69a6" stroke-width="1" />
<line x1="202.35" y1="632.104" x2="209.15" y2="632.104" stroke="#4a69a6" stroke-width="1" />
<line x1="202.35" y1="684.35" x2="209.15" y2="684.35" stroke="#4a69a6" stroke-width="1" />
<rect x="203.65" y="600.25" width="4.2" height="4.2" fill="#234585"/>
<rect x="203.65" y="639.69" width="4.2" height="4.2" fill="#234585"/>
<rect x="203.65" y="651.80" width="4.2" height="4.2" fill="#234585"/>
<rect x="206.55" y="660.11" width="4.2" height="4.2" fill="#234585"/>
<rect x="201.05" y="665.64" width="4.2" height="4.2" fill="#234585"/>
<rect x="203.65" y="672.56" width="4.2" height="4.2" fill="#234585"/>
<rect x="206.55" y="677.75" width="4.2" height="4.2" fill="#234585"/>
<rect x="201.25" y="680.52" width="4.2" height="4.2" fill="#234585"/>
<line x1="199.75" y1="658.054" x2="211.75" y2="658.054" stroke="#000" stroke-width="1.4" />
<text x="205.6" y="580.5" font-size="7.5" fill="#231f20" stroke="#231f20" stroke-width="0.28" text-anchor="middle" textLength="6.6" lengthAdjust="spacingAndGlyphs" >**</text>
<line x1="233.5" y1="681.582" x2="233.5" y2="684.35" stroke="#b90b32" stroke-width="1" />
<line x1="230.50000000000003" y1="681.582" x2="236.9" y2="681.582" stroke="#b90b32" stroke-width="1" />
<line x1="230.50000000000003" y1="684.35" x2="236.9" y2="684.35" stroke="#b90b32" stroke-width="1" />
<circle cx="233.70" cy="677.78" r="2.35" fill="#b90b32"/>
<circle cx="231.20" cy="682.97" r="2.35" fill="#b90b32"/>
<circle cx="236.20" cy="682.97" r="2.35" fill="#b90b32"/>
<circle cx="233.70" cy="683.31" r="2.35" fill="#b90b32"/>
<circle cx="232.20" cy="684.00" r="2.35" fill="#b90b32"/>
<circle cx="235.20" cy="684.00" r="2.35" fill="#b90b32"/>
<circle cx="230.70" cy="684.35" r="2.35" fill="#b90b32"/>
<circle cx="236.70" cy="684.35" r="2.35" fill="#b90b32"/>
<line x1="228.10000000000002" y1="682.966" x2="239.3" y2="682.966" stroke="#000" stroke-width="1.4" />
<line x1="250.5" y1="639.716" x2="250.5" y2="686.772" stroke="#4a69a6" stroke-width="1" />
<line x1="247.2" y1="639.716" x2="254.0" y2="639.716" stroke="#4a69a6" stroke-width="1" />
<line x1="247.2" y1="686.772" x2="254.0" y2="686.772" stroke="#4a69a6" stroke-width="1" />
<rect x="248.50" y="620.66" width="4.2" height="4.2" fill="#234585"/>
<rect x="248.50" y="628.62" width="4.2" height="4.2" fill="#234585"/>
<rect x="248.50" y="659.41" width="4.2" height="4.2" fill="#234585"/>
<rect x="250.80" y="669.10" width="4.2" height="4.2" fill="#234585"/>
<rect x="245.50" y="671.18" width="4.2" height="4.2" fill="#234585"/>
<rect x="245.50" y="682.25" width="4.2" height="4.2" fill="#234585"/>
<rect x="248.50" y="682.25" width="4.2" height="4.2" fill="#234585"/>
<rect x="251.40" y="681.90" width="4.2" height="4.2" fill="#234585"/>
<line x1="244.6" y1="663.244" x2="256.6" y2="663.244" stroke="#000" stroke-width="1.4" />
<text x="245.5" y="579.8" font-size="7.5" fill="#231f20" stroke="#231f20" stroke-width="0.28" text-anchor="middle" textLength="6.6" lengthAdjust="spacingAndGlyphs" >**</text>
<line x1="278.5" y1="676.565" x2="278.5" y2="686.772" stroke="#b90b32" stroke-width="1" />
<line x1="275.35" y1="676.565" x2="281.75" y2="676.565" stroke="#b90b32" stroke-width="1" />
<line x1="275.35" y1="686.772" x2="281.75" y2="686.772" stroke="#b90b32" stroke-width="1" />
<circle cx="278.55" cy="669.82" r="2.35" fill="#b90b32"/>
<circle cx="276.05" cy="681.58" r="2.35" fill="#b90b32"/>
<circle cx="281.05" cy="681.93" r="2.35" fill="#b90b32"/>
<circle cx="278.55" cy="682.97" r="2.35" fill="#b90b32"/>
<circle cx="277.05" cy="684.00" r="2.35" fill="#b90b32"/>
<circle cx="280.05" cy="684.00" r="2.35" fill="#b90b32"/>
<circle cx="275.55" cy="684.35" r="2.35" fill="#b90b32"/>
<circle cx="281.55" cy="684.35" r="2.35" fill="#b90b32"/>
<line x1="272.95" y1="681.928" x2="284.15000000000003" y2="681.928" stroke="#000" stroke-width="1.4" />
<line x1="295.5" y1="631.412" x2="295.5" y2="685.388" stroke="#4a69a6" stroke-width="1" />
<line x1="292.05" y1="631.412" x2="298.84999999999997" y2="631.412" stroke="#4a69a6" stroke-width="1" />
<line x1="292.05" y1="685.388" x2="298.84999999999997" y2="685.388" stroke="#4a69a6" stroke-width="1" />
<rect x="293.35" y="614.09" width="4.2" height="4.2" fill="#234585"/>
<rect x="293.35" y="620.32" width="4.2" height="4.2" fill="#234585"/>
<rect x="295.95" y="648.00" width="4.2" height="4.2" fill="#234585"/>
<rect x="290.35" y="653.19" width="4.2" height="4.2" fill="#234585"/>
<rect x="293.35" y="672.22" width="4.2" height="4.2" fill="#234585"/>
<rect x="290.35" y="675.33" width="4.2" height="4.2" fill="#234585"/>
<rect x="295.95" y="676.02" width="4.2" height="4.2" fill="#234585"/>
<rect x="293.35" y="681.90" width="4.2" height="4.2" fill="#234585"/>
<line x1="289.45" y1="657.1890000000001" x2="301.45" y2="657.1890000000001" stroke="#000" stroke-width="1.4" />
<text x="291.1" y="577.0999999999999" font-size="7.5" fill="#231f20" stroke="#231f20" stroke-width="0.28" text-anchor="middle" textLength="6.6" lengthAdjust="spacingAndGlyphs" >**</text>
<circle cx="312.4" cy="652.2" r="2.4" fill="#b90b32"/>
<rect x="310.3" y="665.3" width="4.3" height="4.3" fill="#234585"/>
<text x="317.6" y="654.8" font-size="8.1" fill="#231f20" stroke="#231f20" stroke-width="0.28" text-anchor="start" textLength="46.6" lengthAdjust="spacingAndGlyphs" >E84 High LSK</text>
<text x="317.6" y="669.6" font-size="8.1" fill="#231f20" stroke="#231f20" stroke-width="0.28" text-anchor="start" textLength="43.6" lengthAdjust="spacingAndGlyphs" >E84 Low LSK</text>
<g shape-rendering="crispEdges">
<rect x="0" y="2" width="520" height="1" fill="#f2f2f2"/>
<rect x="0" y="734" width="520" height="1" fill="#f4f4f4"/>
<rect x="2" y="0" width="1" height="737" fill="#f4f4f4"/>
<rect x="517" y="0" width="1" height="737" fill="#f6f6f6"/>
<rect x="0" y="1" width="520" height="1" fill="#888888"/>
<rect x="0" y="735" width="520" height="1" fill="#777777"/>
<rect x="1" y="0" width="1" height="737" fill="#555555"/>
<rect x="518" y="0" width="1" height="737" fill="#888888"/>
<rect x="0" y="0" width="520" height="1" fill="#111111"/>
<rect x="0" y="736" width="520" height="1" fill="#404040"/>
<rect x="0" y="0" width="1" height="737" fill="#111111"/>
<rect x="519" y="0" width="1" height="737" fill="#111111"/>
</g>
</svg>
</body></html>
